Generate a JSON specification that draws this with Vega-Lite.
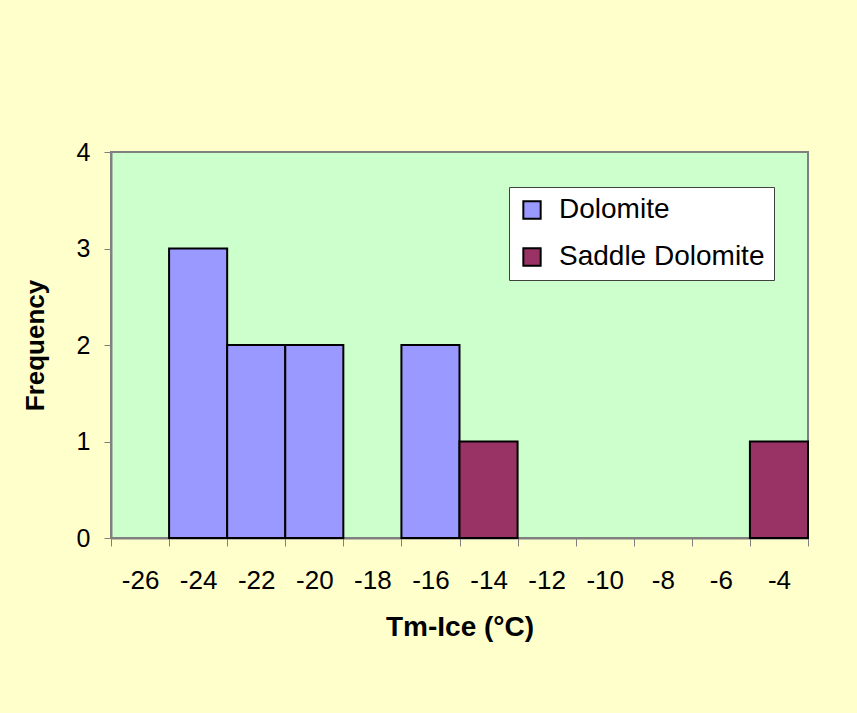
{
  "$schema": "https://vega.github.io/schema/vega-lite/v6.json",
  "width": 697,
  "height": 386,
  "autosize": {"type": "none"},
  "padding": {"left": 111, "top": 152, "right": 49, "bottom": 175},
  "background": "#FFFFCC",
  "config": {
    "font": "Liberation Sans",
    "view": {"fill": "#CCFFCC", "stroke": "#808080", "strokeWidth": 2}
  },
  "data": {
    "values": [
      {"tm": "-24", "count": 3, "type": "Dolomite"},
      {"tm": "-22", "count": 2, "type": "Dolomite"},
      {"tm": "-20", "count": 2, "type": "Dolomite"},
      {"tm": "-16", "count": 2, "type": "Dolomite"},
      {"tm": "-14", "count": 1, "type": "Saddle Dolomite"},
      {"tm": "-4", "count": 1, "type": "Saddle Dolomite"}
    ]
  },
  "mark": {"type": "bar", "stroke": "#000000", "strokeWidth": 2},
  "encoding": {
    "x": {
      "field": "tm",
      "type": "ordinal",
      "sort": null,
      "scale": {
        "domain": ["-26", "-24", "-22", "-20", "-18", "-16", "-14", "-12", "-10", "-8", "-6", "-4"],
        "paddingInner": 0,
        "paddingOuter": 0
      },
      "axis": {
        "title": "Tm-Ice (°C)",
        "labelAngle": 0,
        "tickBand": "extent",
        "domainColor": "#808080",
        "domainWidth": 2,
        "tickColor": "#808080",
        "tickSize": 8,
        "labelPadding": 21,
        "labelFontSize": 26,
        "labelColor": "#000000",
        "titleFontSize": 28,
        "titleFontWeight": "bold",
        "titleColor": "#000000",
        "titlePadding": 20
      }
    },
    "y": {
      "field": "count",
      "type": "quantitative",
      "scale": {"domain": [0, 4]},
      "axis": {
        "title": "Frequency",
        "values": [0, 1, 2, 3, 4],
        "grid": false,
        "domainColor": "#808080",
        "domainWidth": 2,
        "tickColor": "#808080",
        "tickSize": 7,
        "labelPadding": 14,
        "labelFontSize": 25,
        "labelColor": "#000000",
        "titleFontSize": 26,
        "titleFontWeight": "bold",
        "titleColor": "#000000",
        "titlePadding": 28
      }
    },
    "color": {
      "field": "type",
      "type": "nominal",
      "scale": {"domain": ["Dolomite", "Saddle Dolomite"], "range": ["#9999FF", "#993366"]},
      "legend": {
        "title": null,
        "orient": "none",
        "legendX": 398,
        "legendY": 35,
        "fillColor": "#FFFFFF",
        "strokeColor": "#404040",
        "padding": 9,
        "symbolType": "square",
        "symbolSize": 300,
        "symbolStrokeColor": "#000000",
        "symbolStrokeWidth": 2,
        "symbolOpacity": 1,
        "labelFontSize": 28,
        "labelLimit": 0,
        "labelColor": "#000000",
        "labelOffset": 13,
        "rowPadding": 19
      }
    }
  }
}
